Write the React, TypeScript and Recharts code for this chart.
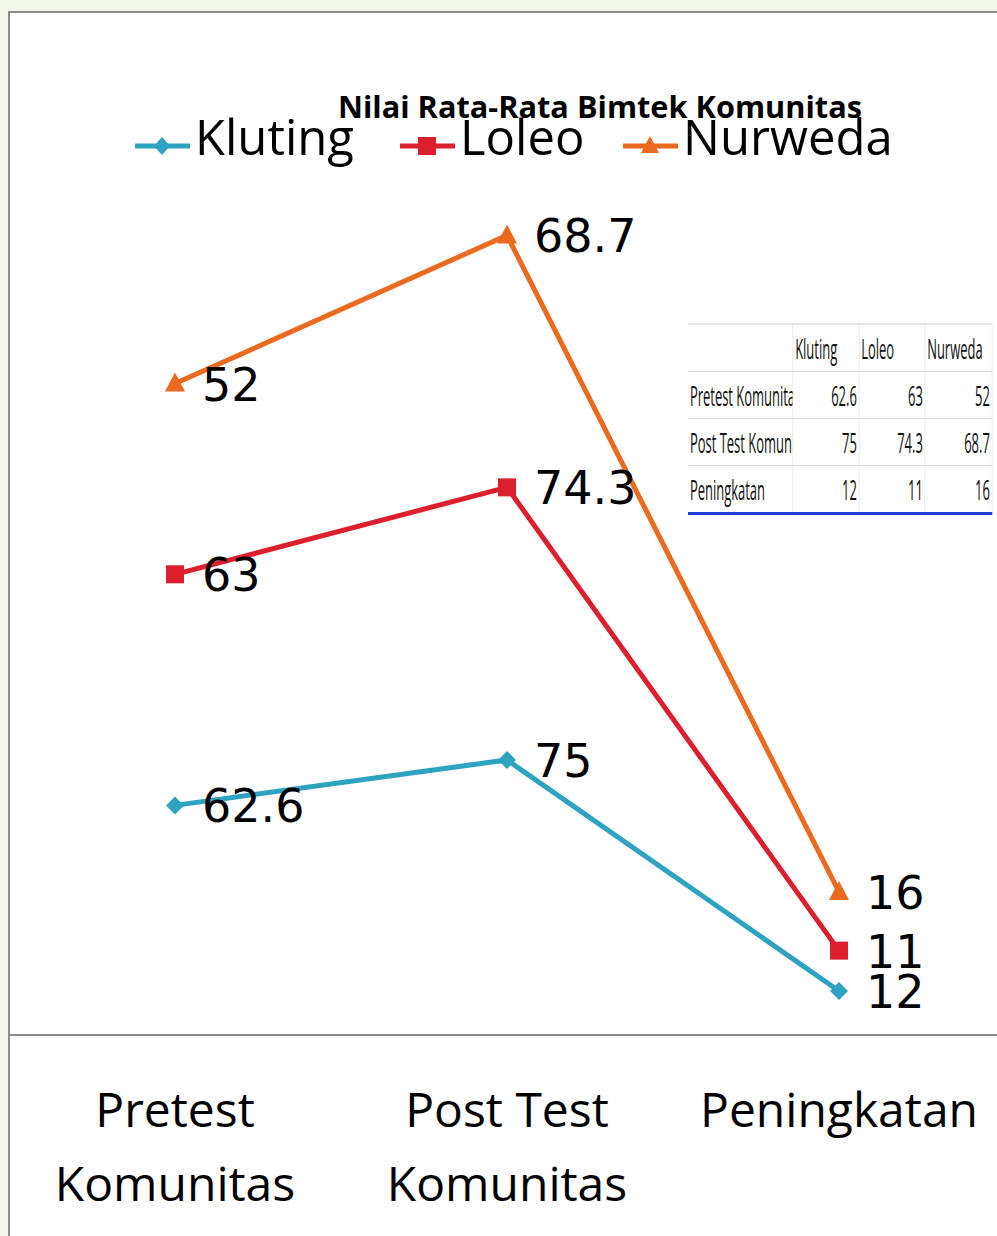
import { AreaChart, Area, XAxis, YAxis } from 'recharts';

const categories = ['Pretest Komunitas', 'Post Test Komunitas', 'Peningkatan'];
const kluting = [62.6, 75, 12];
const loleo = [63, 74.3, 11];
const nurweda = [52, 68.7, 16];

const seriesNames = ['Kluting', 'Loleo', 'Nurweda'];
const tableRows = ['Pretest Komunitas', 'Post Test Komunitas', 'Peningkatan'];

const BLUE = '#2ea3c1';
const RED = '#dc1f2d';
const ORANGE = '#eb6a1e';

const chartData = categories.map((name, i) => ({
  name,
  kluting: kluting[i],
  loleo: loleo[i],
  nurweda: nurweda[i],
}));

const Diamond = (props: any) => {
  const { cx, cy } = props;
  if (cx == null || cy == null) return null;
  return <path d={`M${cx},${cy - 9} L${cx + 9},${cy} L${cx},${cy + 9} L${cx - 9},${cy} Z`} fill={BLUE} />;
};

const Square = (props: any) => {
  const { cx, cy } = props;
  if (cx == null || cy == null) return null;
  return <rect x={cx - 9} y={cy - 9} width={18} height={18} fill={RED} />;
};

const Triangle = (props: any) => {
  const { cx, cy } = props;
  if (cx == null || cy == null) return null;
  return <path d={`M${cx},${cy - 11} L${cx + 10},${cy + 8} L${cx - 10},${cy + 8} Z`} fill={ORANGE} />;
};

const makeLabel = (values: number[]) => (props: any) => {
  const { x, y, index } = props;
  if (x == null || y == null) return null;
  return (
    <text
      x={x + 27}
      y={y}
      dy={17}
      fontSize={46}
      fontFamily="DejaVu Sans"
      fill="#000"
      textAnchor="start"
    >
      {values[index]}
    </text>
  );
};

const CategoryTick = (props: any) => {
  const { x, y, payload } = props;
  const label: string = payload.value;
  const cut = label.lastIndexOf(' ');
  const lines = cut > 0 ? [label.slice(0, cut), label.slice(cut + 1)] : [label];
  return (
    <g>
      {lines.map((line, i) => (
        <text
          key={i}
          x={x}
          y={y + 84 + i * 74}
          textAnchor="middle"
          fontSize={48}
          fontFamily="Open Sans"
          fill="#000"
        >
          {line}
        </text>
      ))}
    </g>
  );
};

const LegendMarker = ({ x, color, shape }: { x: number; color: string; shape: string }) => {
  const cy = 146;
  const cx = x + 27;
  return (
    <g>
      <line x1={x} x2={x + 55} y1={cy} y2={cy} stroke={color} strokeWidth={5} />
      {shape === 'diamond' && (
        <path d={`M${cx},${cy - 9} L${cx + 8},${cy} L${cx},${cy + 9} L${cx - 8},${cy} Z`} fill={color} />
      )}
      {shape === 'square' && <rect x={cx - 9} y={cy - 9} width={18} height={18} fill={color} />}
      {shape === 'triangle' && (
        <path d={`M${cx},${cy - 10} L${cx + 9},${cy + 7} L${cx - 9},${cy + 7} Z`} fill={color} />
      )}
    </g>
  );
};

export default function App() {
  const legendItems = [
    { name: seriesNames[0], color: BLUE, shape: 'diamond', x: 135, tx: 195 },
    { name: seriesNames[1], color: RED, shape: 'square', x: 400, tx: 460 },
    { name: seriesNames[2], color: ORANGE, shape: 'triangle', x: 623, tx: 683 },
  ];
  const tableValues = [
    [kluting[0], loleo[0], nurweda[0]],
    [kluting[1], loleo[1], nurweda[1]],
    [kluting[2], loleo[2], nurweda[2]],
  ];
  const sx = 0.48;
  const cellStyle: any = {
    borderRight: '1px solid #dadada',
    borderBottom: '1px solid #dadada',
    height: 46,
    padding: '0 4px',
    overflow: 'hidden',
    whiteSpace: 'nowrap',
    fontSize: 27,
    fontFamily: 'Open Sans',
    color: '#111',
  };
  return (
    <div style={{ position: 'relative', width: 997, height: 1236, overflow: 'hidden', background: '#f3f6ea' }}>
      <style>{'body{margin:0;overflow:hidden}'}</style>
      <div
        style={{
          position: 'absolute',
          left: 8,
          top: 11,
          right: 0,
          bottom: 0,
          background: '#fff',
          borderLeft: '2px solid #8c8c8c',
          borderTop: '2px solid #8c8c8c',
        }}
      />
      <div style={{ position: 'absolute', left: 0, top: 0 }}>
        <AreaChart width={1005} height={1236} data={chartData} margin={{ top: 118, right: 0, bottom: 0, left: 9 }}>
          <XAxis
            dataKey="name"
            height={201}
            padding={{ left: 166, right: 166 }}
            axisLine={{ stroke: '#8c8c8c', strokeWidth: 2 }}
            tickLine={false}
            tick={<CategoryTick />}
            interval={0}
          />
          <YAxis hide domain={[0, 250]} />
          <Area
            type="linear"
            dataKey="kluting"
            stackId="1"
            stroke={BLUE}
            strokeWidth={5}
            fill="none"
            dot={<Diamond />}
            activeDot={false}
            label={makeLabel(kluting)}
            isAnimationActive={false}
          />
          <Area
            type="linear"
            dataKey="loleo"
            stackId="1"
            stroke={RED}
            strokeWidth={5}
            fill="none"
            dot={<Square />}
            activeDot={false}
            label={makeLabel(loleo)}
            isAnimationActive={false}
          />
          <Area
            type="linear"
            dataKey="nurweda"
            stackId="1"
            stroke={ORANGE}
            strokeWidth={5}
            fill="none"
            dot={<Triangle />}
            activeDot={false}
            label={makeLabel(nurweda)}
            isAnimationActive={false}
          />
        </AreaChart>
      </div>
      <svg style={{ position: 'absolute', left: 0, top: 0 }} width={997} height={200}>
        {legendItems.map((it) => (
          <g key={it.name}>
            <LegendMarker x={it.x} color={it.color} shape={it.shape} />
            <text x={it.tx} y={155} fontSize={49} fontFamily="Open Sans" fill="#000">
              {it.name}
            </text>
          </g>
        ))}
        <text
          x={338}
          y={118}
          fontSize={30}
          fontWeight="bold"
          fontFamily="Open Sans"
          fill="#000"
          textLength={524}
          lengthAdjust="spacingAndGlyphs"
        >
          Nilai Rata-Rata Bimtek Komunitas
        </text>
      </svg>
      <div
        style={{
          position: 'absolute',
          left: 688,
          top: 323,
          width: 304 / sx,
          transform: `scaleX(${sx})`,
          transformOrigin: 'left top',
          background: '#fff',
        }}
      >
        <table
          style={{
            borderCollapse: 'collapse',
            tableLayout: 'fixed',
            width: 304 / sx,
            borderTop: '2px solid #e2e2e2',
            borderBottom: '3px solid #1f3fd6',
          }}
        >
          <colgroup>
            <col style={{ width: 105 / sx }} />
            <col style={{ width: 66 / sx }} />
            <col style={{ width: 66 / sx }} />
            <col style={{ width: 67 / sx }} />
          </colgroup>
          <tbody>
            <tr>
              <td style={cellStyle}></td>
              {seriesNames.map((s) => (
                <td key={s} style={{ ...cellStyle, textAlign: 'left' }}>
                  {s}
                </td>
              ))}
            </tr>
            {tableRows.map((r, i) => (
              <tr key={r}>
                <td style={{ ...cellStyle, textAlign: 'left', maxWidth: 105 / sx }}>{r}</td>
                {tableValues[i].map((v, j) => (
                  <td key={j} style={{ ...cellStyle, textAlign: 'right' }}>
                    {v}
                  </td>
                ))}
              </tr>
            ))}
          </tbody>
        </table>
      </div>
    </div>
  );
}
